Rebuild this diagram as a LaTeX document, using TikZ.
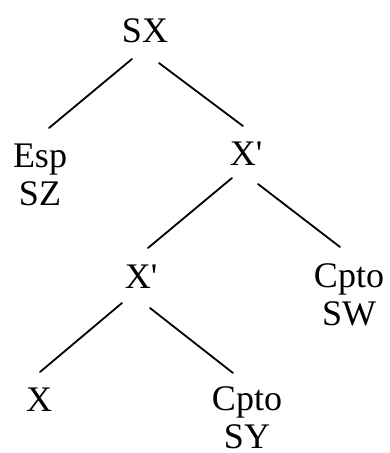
\documentclass[tikz,border=0pt]{standalone}
\usepackage{fontspec}
\setmainfont{Liberation Serif}[Ligatures=TeXOff]
\usetikzlibrary{calc}
\begin{document}
\begin{tikzpicture}[x=1pt,y=-1pt,
  lbl/.style={inner sep=0pt,outer sep=0pt,align=center,anchor=base,
    font=\fontsize{36}{38}\selectfont},
  edge/.style={line width=1.8pt,line cap=round}]
\useasboundingbox (0,0) rectangle (389,453);
\node[lbl] (sx)  at (145,42)  {SX};
\node[lbl] (esp) at (40,205)  {Esp\\SZ};
\node[lbl] (xr)  at (246,165) {X'};
\node[lbl] (xl)  at (141,288) {X'};
\node[lbl] (sw)  at (349,325) {Cpto\\SW};
\node[lbl] (x)   at (39,411)  {X};
\node[lbl] (sy)  at (247,448) {Cpto\\SY};
\draw[edge] ($(sx.base)+(-13,17)$) -- ($(esp.base)+(9,-77)$);
\draw[edge] ($(sx.base)+(14,21)$) -- ($(xr.base)+(-3,-39)$);
\draw[edge] ($(xr.base)+(-14,13)$) -- ($(xl.base)+(7,-40)$);
\draw[edge] ($(xr.base)+(12,19)$) -- ($(sw.base)+(-9,-78)$);
\draw[edge] ($(xl.base)+(-19,15)$) -- ($(x.base)+(1,-39)$);
\draw[edge] ($(xl.base)+(9,20)$) -- ($(sy.base)+(-14,-75)$);
\end{tikzpicture}
\end{document}
